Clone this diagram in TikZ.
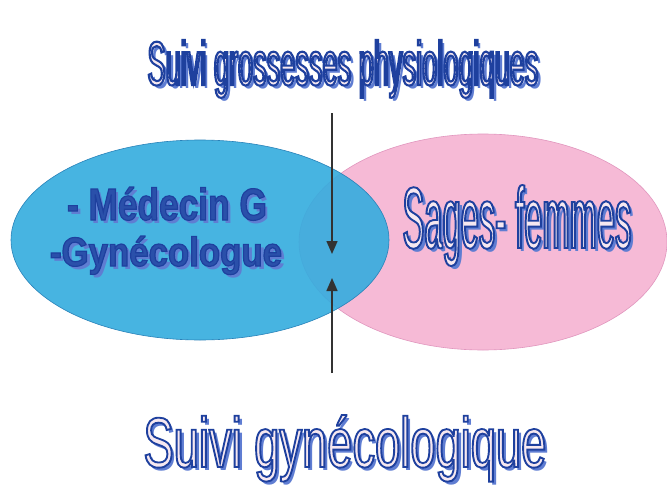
\documentclass[tikz,border=0pt]{standalone}
\usepackage{fontspec}
\setmainfont{Liberation Sans}
\newfontfamily\fa[FakeStretch=0.43]{Liberation Sans}
\newfontfamily\fb[FakeStretch=0.62]{Liberation Sans}
\newfontfamily\fc[FakeStretch=0.36]{Liberation Sans}
\newfontfamily\fd[FakeStretch=0.8]{Liberation Sans}
\usepackage{graphicx}
\usetikzlibrary{arrows.meta,shapes.geometric}
\definecolor{blueell}{RGB}{52,172,222}
\definecolor{blueedge}{RGB}{40,130,185}
\definecolor{pinkell}{RGB}{246,186,214}
\definecolor{pinkedge}{RGB}{225,150,190}
\definecolor{shad}{RGB}{95,125,210}
\definecolor{inner}{RGB}{246,232,240}
\definecolor{lblfill}{RGB}{42,80,170}
\definecolor{arrowc}{RGB}{50,50,50}
% outline on / off (stroke colour = dark blue)
\newcommand{\olon}[1]{\special{pdf:literal direct 2 Tr #1 w 0.118 0.251 0.620 RG}}
\newcommand{\oloff}{\special{pdf:literal direct 0 Tr 1 w}}
% #1 width, #2 height, #3 font+size, #4 text, #5 fill colour, #6 outline width
\newcommand{\wa}[6]{\resizebox{#1pt}{#2pt}{#3\rlap{\hspace{3.5pt}\raisebox{-3.5pt}{\color{shad}#4}}{\color{#5}\olon{#6}#4\oloff}}}
\tikzset{
  txt/.style={inner sep=0pt, outer sep=0pt, anchor=base},
  ell/.style={ellipse, draw, line width=0.6pt},
  link/.style={draw=arrowc, line width=1.5pt, -{Triangle[length=13pt,width=11pt]}}
}
\begin{document}
\begin{tikzpicture}[x=1pt,y=-1pt]
\useasboundingbox (0,0) rectangle (667,490);
\fill[white] (0,0) rectangle (667,490);
% ellipses
\node[ell, draw=pinkedge, fill=pinkell, minimum width=368pt, minimum height=216pt] (sf) at (483,242) {};
\node[ell, draw=blueedge, fill=blueell, fill opacity=0.9, minimum width=378pt, minimum height=200pt] (mg) at (200,240) {};
% arrows
\coordinate (topstart) at (332,113);
\coordinate (toptip) at (332,254);
\coordinate (botstart) at (332,373);
\coordinate (bottip) at (332,278);
\draw[link] (topstart) -- (toptip);
\draw[link] (botstart) -- (bottip);
% titles
\node[txt] (t1) at (343,85) {\wa{391}{45}{\fontsize{63}{70}\fa}{Suivi grossesses physiologiques}{inner}{2.1}};
\node[txt] (t2) at (345,467) {\wa{403}{52}{\fontsize{73}{80}\fb}{Suivi gynécologique}{inner}{1.9}};
\node[txt] (sft) at (517,248) {\wa{229}{63}{\fontsize{88}{95}\fc}{Sages- femmes}{inner}{1.9}};
% left labels
\node[txt] (m1) at (167,220) {\wa{200}{33}{\fontsize{46}{50}\fd\bfseries}{- Médecin G}{lblfill}{1.2}};
\node[txt] (m2) at (166,266) {\wa{232}{30}{\fontsize{42}{46}\fd\bfseries}{-Gynécologue}{lblfill}{1.2}};
\end{tikzpicture}
\end{document}
